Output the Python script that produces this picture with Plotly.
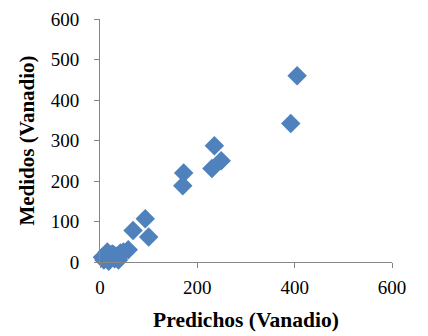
import plotly.graph_objects as go

predichos = [405, 392, 235, 249, 230, 172, 170, 93, 100, 68, 58, 48, 42, 35, 30, 25, 20, 15, 12, 8, 5, 18, 28, 38]
medidos = [460, 342, 287, 250, 231, 220, 188, 107, 62, 78, 30, 25, 22, 15, 8, 20, 10, 25, 15, 5, 12, 2, 18, 5]

x_ticks = [0, 200, 400, 600]
y_ticks = [0, 100, 200, 300, 400, 500, 600]

font_family = "Liberation Serif, Times New Roman, serif"

fig = go.Figure(go.Scatter(
    x=predichos, y=medidos, mode="markers",
    marker=dict(symbol="diamond", size=15, color="#4F81BD", line=dict(width=0)),
    cliponaxis=False,
))

axis_common = dict(
    showgrid=False, zeroline=False, showline=True, linecolor="#868686", linewidth=1,
    ticks="outside", ticklen=5, tickcolor="#868686", automargin=False,
    ticklabeloverflow="allow",
    tickfont=dict(family=font_family, size=19, color="black"),
)

fig.update_layout(
    width=428, height=336,
    margin=dict(l=92, r=44, t=11, b=82),
    paper_bgcolor="white", plot_bgcolor="white",
    showlegend=False,
    xaxis=dict(range=[0, 600], tickvals=x_ticks, ticklabelstandoff=3, **axis_common,
               title=dict(text="<b>Predichos (Vanadio)</b>", standoff=15,
                          font=dict(family=font_family, size=21.5, color="black"))),
    yaxis=dict(range=[0, 600], tickvals=y_ticks, ticklabelstandoff=11, **axis_common,
               title=dict(text="<b>Medidos (Vanadio)</b>", standoff=10,
                          font=dict(family=font_family, size=21, color="black"))),
)

fig.write_html("out.html")
